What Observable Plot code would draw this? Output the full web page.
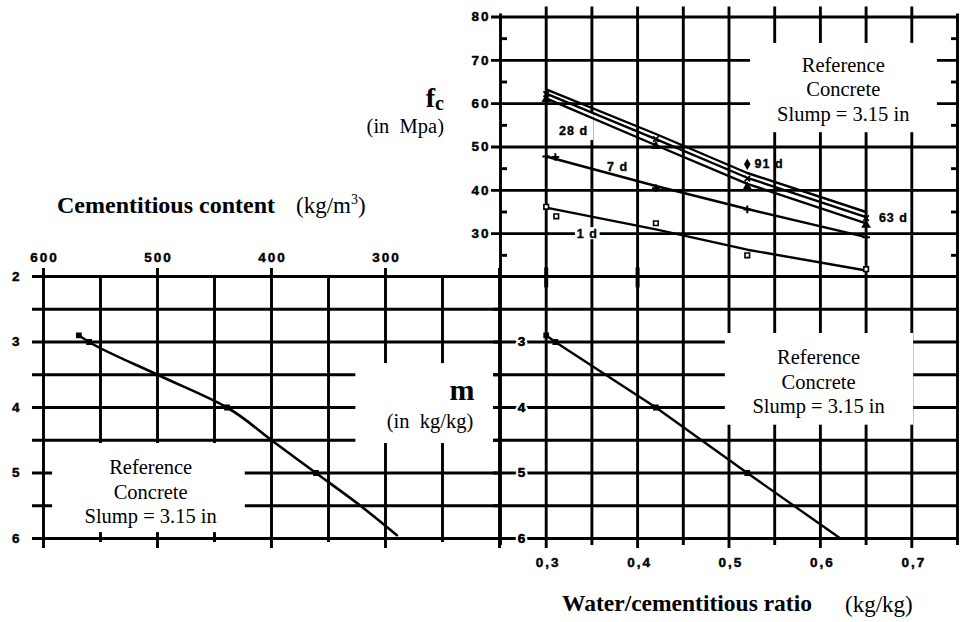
<!DOCTYPE html>
<html><head><meta charset="utf-8">
<script src="https://cdn.jsdelivr.net/npm/d3@7"></script>
<script src="https://cdn.jsdelivr.net/npm/@observablehq/plot@0.6"></script>
<style>
html,body{margin:0;padding:0;background:#fff;}
#chart{position:relative;width:960px;height:622px;overflow:hidden;background:#fff;}
#chart .panel{position:absolute;}
#chart svg{background:transparent !important;overflow:visible;}
.lbl{position:absolute;white-space:pre;line-height:1;color:#000;font-family:"Liberation Serif","Times New Roman",serif;}
#chart g[font-size="13.5"] text{letter-spacing:2px;}
#chart g[font-size="12.5"] text{letter-spacing:1px;}
</style></head><body>
<div id="chart"></div>
<script>
// ---------- data ----------
// top panel: compressive strength fc (MPa) vs water/cementitious ratio
const wcTop  = [0.30, 0.42, 0.52, 0.65];
const fc1d   = [36.0, 31.0, 26.3, 21.5];
const fc7d   = [47.8, 41.0, 35.7, 29.2];
const fc28d  = [61.2, 50.4, 41.5, 32.4];
const fc63d  = [62.3, 51.8, 42.9, 33.8];
const fc91d  = [63.3, 53.0, 44.0, 35.0];
const ageNames = ["1 d", "7 d", "28 d", "63 d", "91 d"];
// measured points (markers)
const wc1dPts  = [0.30, 0.311, 0.42, 0.52, 0.65];
const fc1dPts  = [36.2, 34.0, 32.4, 25.0, 21.8];
const wc7dPts  = [0.30, 0.31, 0.42, 0.52, 0.65];
const fc7dPts  = [47.8, 47.7, 40.5, 35.6, 29.2];
const wcHiPts  = [0.30, 0.42, 0.52, 0.65];
const fc28dPts = [61.0, 50.2, 40.8, 32.0];
const fc63dPts = [62.2, 51.8, 42.7, 33.6];
const label91  = {wc: 0.52, fc: 46.0};
// bottom-left: m vs cementitious content
const cementCurve = [569, 560, 500, 439, 400, 361, 322, 290];
const mCurve      = [2.9, 3.0, 3.5, 4.0, 4.5, 5.0, 5.5, 5.95];
const cementPts   = [569, 560, 439, 361];
const mCementPts  = [2.9, 3.0, 4.0, 5.0];
// bottom-right: m vs water/cementitious ratio
const wcM   = [0.30, 0.31, 0.42, 0.52, 0.622];
const mWc   = [2.9, 3.0, 4.0, 5.0, 6.0];
// ticks / grids
const fcTicks   = [30, 40, 50, 60, 70, 80];
const fcMinor   = [25, 35, 45, 55, 65, 75];
const wcGrid    = [0.25, 0.30, 0.35, 0.40, 0.45, 0.50, 0.55, 0.60, 0.65, 0.70, 0.75];
const wcMajor   = [0.3, 0.4, 0.5, 0.6, 0.7];
const wcMinorT  = [0.25, 0.35, 0.45, 0.55, 0.65, 0.75];
const mGrid     = [2, 2.5, 3, 3.5, 4, 4.5, 5, 5.5, 6];
const mLabelsL  = [2, 3, 4, 5, 6];
const mLabelsR  = [3, 4, 5, 6];
const cemMajor  = [600, 500, 400, 300, 200];
const cemMinor  = [550, 450, 350, 250];
const cemLabels = [600, 500, 400, 300];
const refLines  = ["Reference", "Concrete", "Slump = 3.15 in"];

// ---------- helpers ----------
const serif = "Liberation Serif", sans = "Liberation Sans";
const GW = 2.9, LW = 2.4, K = "black";
const zip = (xs, ys, extra = {}) => xs.map((x, i) => ({x, y: ys[i], ...extra}));
const refText = refLines.join("\n");
const chart = document.getElementById("chart");
function place(svg, left, top) {
  const d = document.createElement("div");
  d.className = "panel"; d.style.left = left + "px"; d.style.top = top + "px";
  d.appendChild(svg); chart.appendChild(d);
}
const tickTxt = {fontFamily: sans, fontWeight: "bold", fontSize: 13.5, fill: K, stroke: K, strokeWidth: 0.45};
const ageTxt = {fontFamily: sans, fontWeight: "bold", fontSize: 12.5, fill: K, stroke: K, strokeWidth: 0.35};
const refTxt = {fontFamily: serif, fontSize: 20.5, lineHeight: 1.2, fill: K};

// ---------- top panel (fc) ----------
const [wcMin, wcMax] = [wcGrid[0], wcGrid[wcGrid.length - 1]];
const topLines = [
  ...zip(wcTop, fc1d, {age: ageNames[0]}),
  ...zip(wcTop, fc7d, {age: ageNames[1]}),
  ...zip(wcTop, fc28d, {age: ageNames[2]}),
  ...zip(wcTop, fc63d, {age: ageNames[3]}),
  ...zip(wcTop, fc91d, {age: ageNames[4]})
];
const A = Plot.plot({
  width: 500, height: 292,
  marginLeft: 40, marginRight: 3, marginTop: 16.5, marginBottom: 15.5,
  x: {domain: [wcMin, wcMax], axis: null},
  y: {domain: [20, 80], axis: null},
  style: "background:transparent;overflow:visible",
  marks: [
    Plot.ruleY(fcTicks, {x1: wcMin, x2: wcMax, stroke: K, strokeWidth: GW, insetLeft: -9}),
    Plot.ruleX(wcGrid.slice(1, -1), {y1: 80, y2: 20, stroke: K, strokeWidth: GW, insetTop: -10}),
    Plot.ruleX([wcMin, wcMax], {y1: 80, y2: 20, stroke: K, strokeWidth: GW, insetTop: -3}),
    Plot.ruleY(fcMinor, {x1: wcMin, x2: wcMin, stroke: K, strokeWidth: GW, insetRight: -7}),
    Plot.ruleY(fcMinor, {x1: wcMax, x2: wcMax, stroke: K, strokeWidth: GW, insetLeft: -6}),
    Plot.ruleX(wcMajor.slice(0, 2), {y1: 20, y2: 20, stroke: K, strokeWidth: 4, insetTop: -9, insetBottom: -11}),
    Plot.text(fcTicks, {x: wcMin, y: d => d, text: d => String(d), textAnchor: "end", dx: -10, ...tickTxt}),
    // white boxes behind annotations
    Plot.rect([0], {x1: 0.5235, x2: 0.728, y1: 53.3, y2: 73.9, fill: "white"}),
    Plot.rect([0], {x1: 0.307, x2: 0.352, y1: 51.5, y2: 57.7, fill: "white"}),
    Plot.rect([0], {x1: 0.332, x2: 0.359, y1: 28.6, y2: 31.4, fill: "white"}),
    // strength lines
    Plot.line(topLines, {x: "x", y: "y", z: "age", stroke: K, strokeWidth: LW}),
    Plot.dot(zip(wc1dPts, fc1dPts), {x: "x", y: "y", symbol: "square", r: 2.6, stroke: K, strokeWidth: 1.6, fill: "white"}),
    Plot.dot(zip(wc7dPts, fc7dPts), {x: "x", y: "y", symbol: "plus", r: 2.6, stroke: K, strokeWidth: 2}),
    Plot.dot(zip(wcHiPts, fc28dPts), {x: "x", y: "y", symbol: "triangle", r: 2.6, fill: K, stroke: K}),
    Plot.dot(zip(wcHiPts, fc63dPts), {x: "x", y: "y", symbol: "times", r: 2.6, stroke: K, strokeWidth: 1.8}),
    Plot.dot([label91], {x: "wc", y: "fc", symbol: "diamond", r: 2.6, fill: K, stroke: K}),
    // labels
    Plot.text([ageNames[2]], {x: 0.33, y: 53.6, text: d => d, ...ageTxt}),
    Plot.text([ageNames[1]], {x: 0.378, y: 45.5, text: d => d, ...ageTxt}),
    Plot.text([ageNames[0]], {x: 0.345, y: 29.9, text: d => d, ...ageTxt}),
    Plot.text([ageNames[4]], {x: 0.528, y: 46.0, text: d => d, textAnchor: "start", ...ageTxt}),
    Plot.text([ageNames[3]], {x: 0.664, y: 33.7, text: d => d, textAnchor: "start", ...ageTxt}),
    Plot.text([refText], {x: 0.625, y: 63.5, text: d => d, ...refTxt})
  ]
});

// ---------- bottom-left panel (m vs cementitious content) ----------
const B = Plot.plot({
  width: 510, height: 320,
  marginLeft: 43, marginRight: 11, marginTop: 36, marginBottom: 22,
  x: {domain: [600, 200], axis: null},
  y: {domain: [6, 2], axis: null},
  style: "background:transparent;overflow:visible",
  marks: [
    Plot.ruleY(mGrid, {x1: 600, x2: 200, stroke: K, strokeWidth: GW, insetLeft: -11}),
    Plot.ruleX(cemMajor, {y1: 2, y2: 6, stroke: K, strokeWidth: GW, insetTop: -8, insetBottom: -10}),
    Plot.ruleX(cemMinor, {y1: 2, y2: 6, stroke: K, strokeWidth: GW, insetBottom: -4}),
    Plot.text(cemLabels, {x: d => d, y: 2, text: d => String(d), dy: -19, dx: 1, ...tickTxt}),
    Plot.text(mLabelsL, {x: 600, y: d => d, text: d => String(d), textAnchor: "end", dx: -22, ...tickTxt}),
    Plot.rect([0], {x1: 592, x2: 423, y1: 4.55, y2: 5.91, fill: "white"}),
    Plot.rect([0], {x1: 326, x2: 205, y1: 3.33, y2: 4.55, fill: "white"}),
    Plot.line(zip(cementCurve, mCurve), {x: "x", y: "y", curve: "monotone-y", stroke: K, strokeWidth: 2.6}),
    Plot.dot(zip(cementPts, mCementPts), {x: "x", y: "y", symbol: "square", r: 2.4, fill: K, stroke: K}),
    Plot.text([refText], {x: 506, y: 5.27, text: d => d, ...refTxt})
  ]
});

// ---------- bottom-right panel (m vs w/c) ----------
const C = Plot.plot({
  width: 500, height: 320,
  marginLeft: 40, marginRight: 3, marginTop: 16, marginBottom: 42,
  x: {domain: [wcMin, wcMax], axis: null},
  y: {domain: [6, 2], axis: null},
  style: "background:transparent;overflow:visible",
  marks: [
    Plot.ruleY(mGrid, {x1: wcMin, x2: wcMax, stroke: K, strokeWidth: GW, insetLeft: -7}),
    Plot.ruleX(wcMajor, {y1: 2, y2: 6, stroke: K, strokeWidth: GW, insetBottom: -10}),
    Plot.ruleX(wcMinorT, {y1: 2, y2: 6, stroke: K, strokeWidth: GW, insetBottom: -7}),
    Plot.text(mLabelsR, {x: wcMin, y: d => d, text: d => String(d), dx: 22, fontFamily: sans, fontWeight: "bold", fontSize: 13.5, fill: K, stroke: "white", strokeWidth: 5, paintOrder: "stroke"}),
    Plot.text(mLabelsR, {x: wcMin, y: d => d, text: d => String(d), dx: 22, ...tickTxt}),
    Plot.text(wcMajor, {x: d => d, y: 6, text: d => String(d).replace(".", ","), dy: 24, dx: 2, ...tickTxt}),
    Plot.rect([0], {x1: 0.496, x2: 0.702, y1: 2.87, y2: 4.27, fill: "white"}),
    Plot.line(zip(wcM, mWc), {x: "x", y: "y", stroke: K, strokeWidth: LW}),
    Plot.dot(zip(wcM.slice(0, 4), mWc.slice(0, 4)), {x: "x", y: "y", symbol: "square", r: 2.4, fill: K, stroke: K}),
    Plot.text([refText], {x: 0.598, y: 3.59, text: d => d, ...refTxt})
  ]
});

place(B, 0, 240);
place(C, 460, 260);
place(A, 460, 0);

// ---------- titles ----------
const labels = [
  {html: '<b>f</b><b style="font-size:20px;position:relative;top:3px">c</b>', size: 28, right: 516, top: 83.5},
  {html: '(in  Mpa)', size: 20.5, right: 516, top: 115.8},
  {html: '<b>Cementitious content</b>', size: 24, left: 57, top: 192.9},
  {html: '(kg/m<span style="font-size:14px;position:relative;top:-9px">3</span>)', size: 23, left: 296, top: 193.7},
  {html: '<b>Water/cementitious ratio</b>', size: 23.5, left: 562, top: 592.3},
  {html: '(kg/kg)', size: 23, left: 845, top: 592.7},
  {html: '<b>m</b>', size: 30, center: 462, top: 374.9},
  {html: '(in  kg/kg)', size: 20.5, center: 430, top: 410.8}
];
for (const l of labels) {
  const d = document.createElement("div");
  d.className = "lbl";
  d.innerHTML = l.html;
  d.style.fontSize = l.size + "px";
  d.style.top = l.top + "px";
  if (l.right != null) { d.style.right = l.right + "px"; d.style.textAlign = "right"; }
  else if (l.center != null) { d.style.left = l.center + "px"; d.style.transform = "translateX(-50%)"; }
  else d.style.left = l.left + "px";
  chart.appendChild(d);
}
</script>
</body></html>
